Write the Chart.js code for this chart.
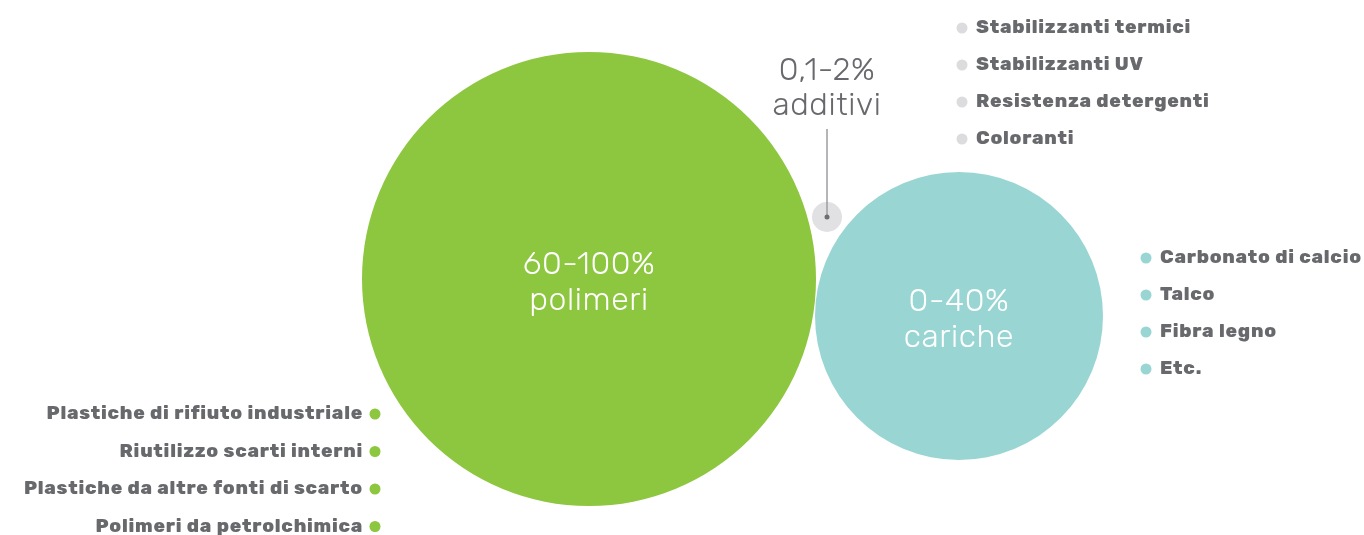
<!DOCTYPE html>
<html>
<head>
<meta charset="utf-8">
<script src="https://cdn.jsdelivr.net/npm/chart.js@4"></script>
<style>
  html, body { margin: 0; padding: 0; background: #fff; }
  #wrap { width: 1364px; height: 535px; position: relative; }
</style>
</head>
<body>
<div id="wrap"><canvas id="chart"></canvas></div>
<script>
// bubbles: polimeri, cariche, additivi
const bubbleNames = ["polimeri", "cariche", "additivi"];
const bubbleRange = ["60-100%", "0-40%", "0,1-2%"];
const bubbleX = [589, 959, 827];
const bubbleY = [279, 316, 217];
const bubbleR = [227, 144, 15];
const bubbleColors = ["#8dc63f", "#99d6d3", "#e1e1e3"];

const polimeriItems = ["Plastiche di rifiuto industriale", "Riutilizzo scarti interni", "Plastiche da altre fonti di scarto", "Polimeri da petrolchimica"];
const caricheItems = ["Carbonato di calcio", "Talco", "Fibra legno", "Etc."];
const additiviItems = ["Stabilizzanti termici", "Stabilizzanti UV", "Resistenza detergenti", "Coloranti"];

const textGrey = "#68696c";
const FONT = "Rubik, Inter, 'Open Sans', sans-serif";

const labelsPlugin = {
  id: "labels",
  afterDatasetsDraw(chart) {
    const ctx = chart.ctx;
    const sx = chart.scales.x, sy = chart.scales.y;
    const px = i => sx.getPixelForValue(bubbleX[i]);
    const py = i => sy.getPixelForValue(bubbleY[i]);
    ctx.save();
    ctx.textAlign = "center";
    ctx.textBaseline = "middle";
    ctx.font = "300 32px " + FONT;
    ctx.letterSpacing = "0.6px";
    // inner labels
    ctx.fillStyle = "#fff";
    ctx.fillText(bubbleRange[0], px(0), py(0) - 14);
    ctx.fillText(bubbleNames[0], px(0), py(0) + 22);
    ctx.fillText(bubbleRange[1], px(1), py(1) - 14);
    ctx.fillText(bubbleNames[1], px(1), py(1) + 22);
    // additivi label + leader
    ctx.fillStyle = textGrey;
    ctx.fillText(bubbleRange[2], px(2), 71);
    ctx.fillText(bubbleNames[2], px(2), 106);
    ctx.strokeStyle = "#9b9ca0";
    ctx.lineWidth = 1.5;
    ctx.beginPath();
    ctx.moveTo(px(2), 129);
    ctx.lineTo(px(2), py(2));
    ctx.stroke();
    ctx.fillStyle = "#6d6e71";
    ctx.beginPath();
    ctx.arc(px(2), py(2), 2.5, 0, Math.PI * 2);
    ctx.fill();

    // bullet lists
    ctx.font = "800 19px " + FONT;
    ctx.letterSpacing = "0.75px";
    const list = (items, x, y0, step, color, align) => {
      items.forEach((t, k) => {
        const y = y0 + k * step;
        ctx.fillStyle = color;
        ctx.beginPath();
        ctx.arc(x, y, 5.5, 0, Math.PI * 2);
        ctx.fill();
        ctx.fillStyle = textGrey;
        ctx.textAlign = align;
        ctx.fillText(t, align === "left" ? x + 14 : x - 12, y);
      });
    };
    list(additiviItems, 962, 28, 37, "#dcdcde", "left");
    list(caricheItems, 1146, 258, 37, bubbleColors[1], "left");
    list(polimeriItems, 375, 414, 37.5, bubbleColors[0], "right");
    ctx.restore();
  }
};

new Chart(document.getElementById("chart"), {
  type: "bubble",
  data: {
    datasets: [{
      data: bubbleX.map((x, i) => ({ x: x, y: bubbleY[i], r: bubbleR[i] })),
      backgroundColor: bubbleColors,
      borderWidth: 0,
      hoverBorderWidth: 0,
      clip: false
    }]
  },
  options: {
    responsive: true,
    maintainAspectRatio: false,
    animation: false,
    layout: { padding: 0, autoPadding: false },
    plugins: { legend: { display: false }, tooltip: { enabled: false } },
    scales: {
      x: { type: "linear", min: 0, max: 1364, display: false },
      y: { type: "linear", min: 0, max: 535, reverse: true, display: false }
    }
  },
  plugins: [labelsPlugin]
});
</script>
</body>
</html>
